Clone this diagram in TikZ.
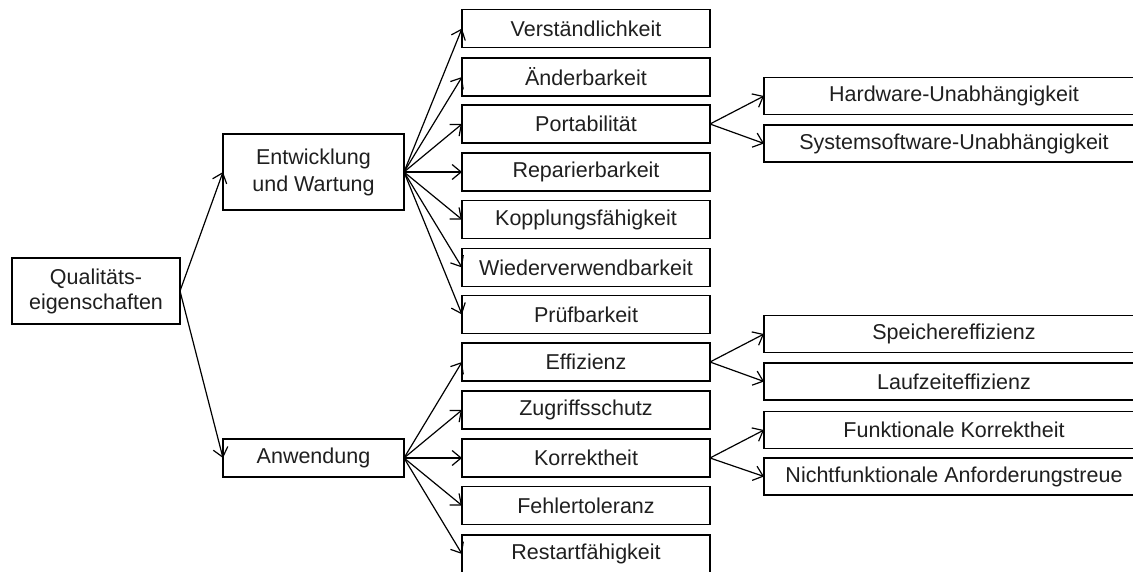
\documentclass[tikz,border=0pt]{standalone}
\usepackage{fontspec}
\setmainfont{Liberation Sans}
\usetikzlibrary{arrows.meta}
\tikzset{
  box/.style={draw=black, line width=1.9pt, fill=white, inner sep=0pt, outer sep=0pt,
    align=center, text=black!88, font=\fontsize{21.5}{25}\selectfont},
  midbox/.style={box, minimum width=248pt, minimum height=38pt},
  rightbox/.style={box, minimum width=380pt, minimum height=37pt},
  link/.style={line width=1.2pt, -{Straight Barb[length=9pt,width=15pt,line width=1.2pt]}}
}
\begin{document}
\begin{tikzpicture}[x=1pt,y=-1pt]
\useasboundingbox (0,0) rectangle (1133,572);

% root and the two main groups
\node[box, minimum width=168pt, minimum height=66pt] (q) at (96,291)
  {Qualitäts-\\eigenschaften};
\node[box, minimum width=181pt, minimum height=76pt, font=\fontsize{21.5}{27}\selectfont]
  (ew) at (313.5,172) {Entwicklung\\und Wartung};
\node[box, minimum width=181pt, minimum height=38pt] (an) at (313.5,458) {Anwendung};

% middle column
\node[midbox] (m1)  at (586,28.5)  {Verständlichkeit};
\node[midbox] (m2)  at (586,77)    {Änderbarkeit};
\node[midbox] (m3)  at (586,124)   {Portabilität};
\node[midbox] (m4)  at (586,172)   {Reparierbarkeit};
\node[midbox] (m5)  at (586,219.5) {Kopplungsfähigkeit};
\node[midbox] (m6)  at (586,267.5) {Wiederverwendbarkeit};
\node[midbox] (m7)  at (586,314.5) {Prüfbarkeit};
\node[midbox] (m8)  at (586,362)   {Effizienz};
\node[midbox] (m9)  at (586,410)   {Zugriffsschutz};
\node[midbox] (m10) at (586,458)   {Korrektheit};
\node[midbox] (m11) at (586,505.5) {Fehlertoleranz};
\node[midbox] (m12) at (586,554)   {Restartfähigkeit};

% right column
\node[rightbox] (r1) at (954,96)    {Hardware-Unabhängigkeit};
\node[rightbox] (r2) at (954,143.5) {Systemsoftware-Unabhängigkeit};
\node[rightbox] (r3) at (954,334)   {Speichereffizienz};
\node[rightbox] (r4) at (954,381.5) {Laufzeiteffizienz};
\node[rightbox] (r5) at (954,430)   {Funktionale Korrektheit};
\node[rightbox] (r6) at (954,476.5) {Nichtfunktionale Anforderungstreue};

% connectors
\draw[link] (q.east) -- (ew.west);
\draw[link] (q.east) -- (an.west);
\foreach \m in {m1,m2,m3,m4,m5,m6,m7}
  \draw[link] (ew.east) -- (\m.west);
\foreach \m in {m8,m9,m10,m11,m12}
  \draw[link] (an.east) -- (\m.west);
\draw[link] (m3.east) -- (r1.west);
\draw[link] (m3.east) -- (r2.west);
\draw[link] (m8.east) -- (r3.west);
\draw[link] (m8.east) -- (r4.west);
\draw[link] (m10.east) -- (r5.west);
\draw[link] (m10.east) -- (r6.west);
\end{tikzpicture}
\end{document}
